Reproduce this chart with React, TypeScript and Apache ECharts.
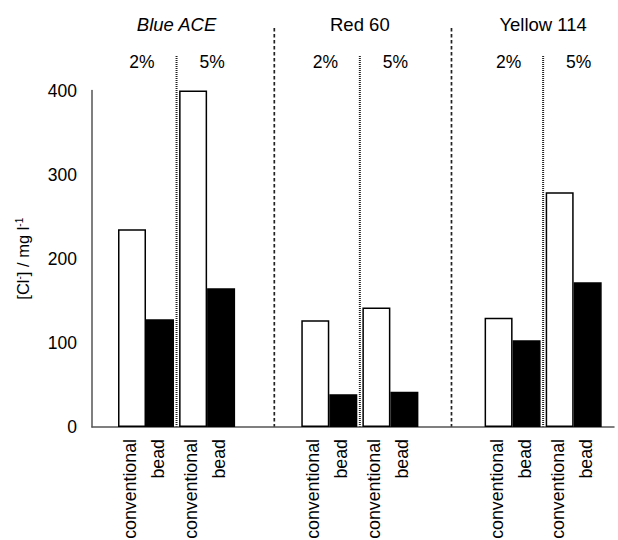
import React, { useEffect, useRef } from "react";
import * as echarts from "echarts";

// Chloride concentration per dye, dye concentration and dyeing process
const dyes = ["Blue ACE", "Red 60", "Yellow 114"];
const dyeConcentrations = ["2%", "5%"];
const processes = ["conventional", "bead"];
// values ordered: Blue 2%, Blue 5%, Red 2%, Red 5%, Yellow 2%, Yellow 5%
const conventionalValues = [235, 400, 127, 142, 130, 279];
const beadValues = [128, 165, 39, 42, 103, 172];
const yTicks = [0, 100, 200, 300, 400];
const yTitle = "[Cl{sup|-}] / mg l{sup|-1}";

const FONT = "'Liberation Sans', Arial, sans-serif";

// slot index of each bar pair along the x axis (one empty slot between dyes)
const slotOf = (dyeIdx: number, concIdx: number) => dyeIdx * 3 + concIdx;

export default function App() {
  const ref = useRef<HTMLDivElement>(null);

  useEffect(() => {
    document.body.style.margin = "0";
    if (!ref.current) return;
    const chart = echarts.init(ref.current, null, { renderer: "svg" });

    const pairs: number[] = [];
    dyes.forEach((_, d) => dyeConcentrations.forEach((__, c) => pairs.push(slotOf(d, c))));

    // rotated labels hanging below each bar; offset is in the rotated frame
    const barLabel = (name: string) => ({
      show: true,
      position: ["50%", "100%"],
      rotate: 90,
      align: "right",
      verticalAlign: "middle",
      offset: [-12, -2],
      formatter: name,
      color: "#000",
      fontSize: 17.8,
      fontFamily: FONT,
    });

    chart.setOption({
      animation: false,
      grid: { left: 92, right: 4, top: 90.5, bottom: 113 },
      xAxis: {
        type: "value",
        min: -0.884,
        max: 7.66,
        axisLine: { show: true, onZero: false, lineStyle: { color: "#555", width: 1.5 } },
        axisTick: { show: false },
        axisLabel: { show: false },
        splitLine: { show: false },
      },
      yAxis: {
        type: "value",
        min: yTicks[0],
        max: yTicks[yTicks.length - 1],
        interval: yTicks[1] - yTicks[0],
        axisLine: { show: true, onZero: false, lineStyle: { color: "#555", width: 1.5 } },
        axisTick: { show: false },
        splitLine: { show: false },
        axisLabel: { color: "#000", fontSize: 17.5, fontFamily: FONT, margin: 15 },
      },
      series: [
        {
          name: processes[0],
          type: "bar",
          barWidth: 28,
          barGap: "0%",
          data: pairs.map((x, i) => [x, conventionalValues[i]]),
          itemStyle: { color: "#fff", borderColor: "#000", borderWidth: 1.5 },
          label: barLabel(processes[0]),
        },
        {
          name: processes[1],
          type: "bar",
          barWidth: 28,
          barGap: "0%",
          data: pairs.map((x, i) => [x, beadValues[i]]),
          itemStyle: { color: "#000", borderColor: "#000", borderWidth: 1.5 },
          label: barLabel(processes[1]),
        },
      ],
    });

    // Separators and headings, placed through the axis scales
    const px = (x: number, y: number) =>
      chart.convertToPixel({ xAxisIndex: 0, yAxisIndex: 0 }, [x, y]) as number[];
    const base = px(0, 0)[1];
    const top = px(0, yTicks[yTicks.length - 1])[1];
    const graphics: any[] = [];

    // y-axis title with superscripts
    graphics.push({
      type: "text",
      x: 23,
      y: (base + top) / 2,
      rotation: Math.PI / 2,
      style: {
        text: yTitle,
        fontSize: 16.5,
        fontFamily: FONT,
        fill: "#000",
        align: "center",
        verticalAlign: "middle",
        rich: {
          sup: { fontSize: 10, fontFamily: FONT, fill: "#000", verticalAlign: "top" },
        },
      },
    });

    const dyeSeparators = [2.1, 5.0];
    dyeSeparators.forEach((s) => {
      const x = px(s, 0)[0];
      graphics.push({
        type: "line",
        shape: { x1: x, y1: 28, x2: x, y2: base },
        style: { stroke: "#222", lineWidth: 1.7, lineDash: [3.5, 2.5] },
      });
    });
    dyes.forEach((dye, d) => {
      const mid = px(slotOf(d, 0) + 0.5, 0)[0];
      graphics.push({
        type: "line",
        shape: { x1: mid, y1: 56, x2: mid, y2: base },
        style: { stroke: "#222", lineWidth: 2, lineDash: [1, 1] },
      });
      graphics.push({
        type: "text",
        x: mid,
        y: 24,
        style: {
          text: dye,
          fontSize: 18.5,
          fontFamily: FONT,
          fontStyle: d === 0 ? "italic" : "normal",
          fill: "#000",
          align: "center",
          verticalAlign: "middle",
        },
      });
      dyeConcentrations.forEach((conc, c) => {
        const cx = px(slotOf(d, c), 0)[0] + (c === 0 ? -4 : 5);
        graphics.push({
          type: "text",
          x: cx,
          y: 62,
          style: {
            text: conc,
            fontSize: 17.5,
            fontFamily: FONT,
            fill: "#000",
            align: "center",
            verticalAlign: "middle",
          },
        });
      });
    });
    chart.setOption({ graphic: graphics });

    return () => chart.dispose();
  }, []);

  return <div ref={ref} style={{ width: 618, height: 540 }} />;
}
